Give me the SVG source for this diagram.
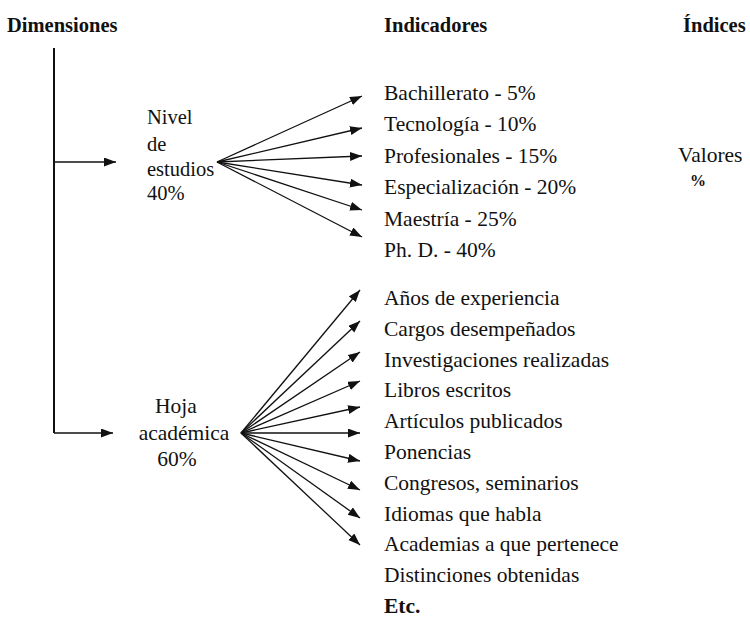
<svg xmlns="http://www.w3.org/2000/svg" width="750" height="632" viewBox="0 0 750 632">
<style>
text{font-family:"Liberation Serif","Times New Roman","DejaVu Serif",serif;fill:#111;font-size:21.5px}
.h{font-weight:bold;font-size:20.5px}
.b{font-weight:bold}
.c{text-anchor:middle}
.n{font-size:20.5px}
.ln{stroke:#111;stroke-width:1.3;fill:none}
.ar{stroke:#111;stroke-width:1.3;fill:none;marker-end:url(#ah)}
</style>
<defs>
<marker id="ah" markerUnits="userSpaceOnUse" markerWidth="13" markerHeight="10" refX="12" refY="4.5" orient="auto">
<path d="M0,0 L12,4.5 L0,9 Z" fill="#111"/>
</marker>
</defs>
<rect width="750" height="632" fill="#fff"/>
<g id="headings">
<text class="h" x="7" y="32">Dimensiones</text>
<text class="h" x="384" y="32">Indicadores</text>
<text class="h" x="683" y="32">Índices</text>
</g>
<g id="connectors">
<line class="ln" x1="54" y1="48" x2="54" y2="433" style="stroke-width:2"/>
<line class="ar" x1="54" y1="162" x2="116" y2="162"/>
<line class="ar" x1="54" y1="433" x2="113" y2="433"/>
<line class="ar" x1="217" y1="162" x2="362" y2="96"/>
<line class="ar" x1="217" y1="162" x2="362" y2="128"/>
<line class="ar" x1="217" y1="162" x2="362" y2="156"/>
<line class="ar" x1="217" y1="162" x2="362" y2="185"/>
<line class="ar" x1="217" y1="162" x2="362" y2="210"/>
<line class="ar" x1="217" y1="162" x2="362" y2="237"/>
<line class="ar" x1="241" y1="433" x2="360" y2="290"/>
<line class="ar" x1="241" y1="433" x2="360" y2="321"/>
<line class="ar" x1="241" y1="433" x2="360" y2="352"/>
<line class="ar" x1="241" y1="433" x2="360" y2="381"/>
<line class="ar" x1="241" y1="433" x2="360" y2="407"/>
<line class="ar" x1="241" y1="433" x2="360" y2="433"/>
<line class="ar" x1="241" y1="433" x2="360" y2="461"/>
<line class="ar" x1="241" y1="433" x2="360" y2="490"/>
<line class="ar" x1="241" y1="433" x2="360" y2="518"/>
<line class="ar" x1="241" y1="433" x2="360" y2="545"/>
</g>
<g id="node-nivel">
<text class="n" x="147" y="124">Nivel</text>
<text class="n" x="147" y="151">de</text>
<text class="n" x="147" y="176">estudios</text>
<text class="n" x="147" y="200">40%</text>
</g>
<g id="node-hoja">
<text class="c" x="176" y="413">Hoja</text>
<text class="c" x="184" y="440">académica</text>
<text class="c" x="177" y="466">60%</text>
</g>
<g id="ind-estudios">
<g id="i-bach"><text x="384" y="100">Bachillerato - 5%</text></g>
<g id="i-tec"><text x="384" y="131">Tecnología - 10%</text></g>
<g id="i-prof"><text x="384" y="163">Profesionales - 15%</text></g>
<g id="i-esp"><text x="384" y="194">Especialización - 20%</text></g>
<g id="i-mae"><text x="384" y="226">Maestría - 25%</text></g>
<g id="i-phd"><text x="384" y="257">Ph. D. - 40%</text></g>
</g>
<g id="indices">
<text x="678" y="162">Valores</text>
<text class="c" x="698" y="186" style="font-size:16px;font-weight:bold">%</text>
</g>
<g id="ind-hoja">
<g id="i-anos"><text x="384" y="305">Años de experiencia</text></g>
<g id="i-cargos"><text x="384" y="336">Cargos desempeñados</text></g>
<g id="i-inv"><text x="384" y="367">Investigaciones realizadas</text></g>
<g id="i-libros"><text x="384" y="397">Libros escritos</text></g>
<g id="i-art"><text x="384" y="428">Artículos publicados</text></g>
<g id="i-pon"><text x="384" y="459">Ponencias</text></g>
<g id="i-cong"><text x="384" y="490">Congresos, seminarios</text></g>
<g id="i-idi"><text x="384" y="521">Idiomas que habla</text></g>
<g id="i-acad"><text x="384" y="551">Academias a que pertenece</text></g>
<g id="i-dist"><text x="384" y="582">Distinciones obtenidas</text></g>
<g id="i-etc"><text class="b" x="384" y="613">Etc.</text></g>
</g>
</svg>
